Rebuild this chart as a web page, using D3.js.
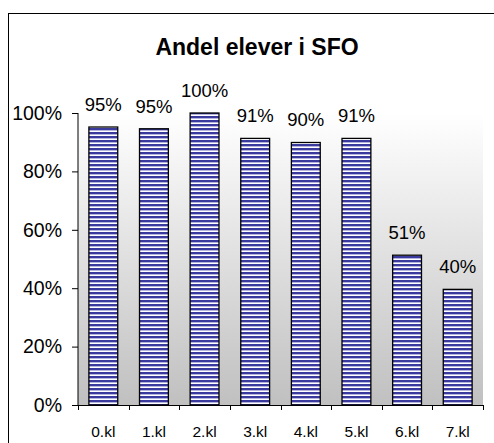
<!DOCTYPE html>
<html>
<head>
<meta charset="utf-8">
<script src="https://cdn.jsdelivr.net/npm/d3@7"></script>
<style>
  html, body { margin: 0; padding: 0; background: #ffffff; }
  svg { display: block; }
  text { font-family: "Liberation Sans", Arial, sans-serif; fill: #000; }
</style>
</head>
<body>
<svg id="chart" width="494" height="443"></svg>
<script>
// ---- data ----
const title = "Andel elever i SFO";
const categories = ["0.kl", "1.kl", "2.kl", "3.kl", "4.kl", "5.kl", "6.kl", "7.kl"];
const values = [95.2, 94.6, 100, 91.3, 89.9, 91.3, 51.3, 39.6];
const yTicks = [0, 20, 40, 60, 80, 100];

// ---- layout ----
const W = 494, H = 443;
const plot = { left: 78, right: 483, top: 113, bottom: 405 };

const svg = d3.select("#chart");
const defs = svg.append("defs");

// gradient background of the plot area
const grad = defs.append("linearGradient")
  .attr("id", "bg").attr("x1", 0).attr("y1", 0).attr("x2", 0).attr("y2", 1);
grad.append("stop").attr("offset", "0%").attr("stop-color", "#ffffff");
grad.append("stop").attr("offset", "100%").attr("stop-color", "#c0c0c0");

// horizontal stripe pattern for the bars
const pat = defs.append("pattern")
  .attr("id", "stripes").attr("patternUnits", "userSpaceOnUse")
  .attr("width", 8).attr("height", 4);
pat.append("rect").attr("x", 0).attr("y", 0).attr("width", 8).attr("height", 4).attr("fill", "#ffffff");
pat.append("rect").attr("x", 0).attr("y", 0).attr("width", 8).attr("height", 2).attr("fill", "#3a3a9e");
pat.append("rect").attr("x", 0).attr("y", 2).attr("width", 8).attr("height", 1).attr("fill", "#b4b4de");

// outer chart frame
svg.append("rect")
  .attr("x", 8.5).attr("y", 13.5)
  .attr("width", 490).attr("height", 440)
  .attr("fill", "#ffffff").attr("stroke", "#000").attr("stroke-width", 1);

// title
svg.append("text")
  .attr("x", 257).attr("y", 55)
  .attr("text-anchor", "middle")
  .style("font-size", "23px").style("font-weight", "bold")
  .text(title);

// scales
const x = d3.scaleBand().domain(categories)
  .range([plot.left, plot.right]).paddingInner(0.43).paddingOuter(0.215);
const xCat = d3.scaleBand().domain(categories).range([plot.left, plot.right]);
const y = d3.scaleLinear().domain([0, 100]).range([plot.bottom, plot.top]);

// plot area
svg.append("rect")
  .attr("x", plot.left).attr("y", plot.top)
  .attr("width", plot.right - plot.left).attr("height", plot.bottom - plot.top)
  .attr("fill", "url(#bg)");

// bars
svg.append("g").selectAll("rect")
  .data(values)
  .join("rect")
  .attr("x", (d, i) => x(categories[i]))
  .attr("y", d => y(d))
  .attr("width", x.bandwidth())
  .attr("height", d => y(0) - y(d))
  .attr("fill", "url(#stripes)")
  .attr("stroke", "#000").attr("stroke-width", 1.3);

// data labels
svg.append("g").selectAll("text")
  .data(values)
  .join("text")
  .attr("x", (d, i) => x(categories[i]) + x.bandwidth() / 2)
  .attr("y", d => y(d) - 16)
  .attr("text-anchor", "middle")
  .style("font-size", "18.5px")
  .text(d => Math.round(d) + "%");

// y axis
const yAxis = d3.axisLeft(y).tickValues(yTicks).tickFormat(d => d + "%")
  .tickSize(6).tickPadding(10);
const gy = svg.append("g").attr("transform", `translate(${plot.left},0)`).call(yAxis);
gy.select(".domain").attr("stroke", "#000").attr("d", `M0,${plot.top}V${plot.bottom}`);
gy.selectAll(".tick line").attr("stroke", "#000");
gy.selectAll(".tick text").style("font-size", "19.5px").style("font-family", "'Liberation Sans', Arial, sans-serif").attr("fill", "#000");

// x axis with ticks at category boundaries
const gx = svg.append("g").attr("transform", `translate(0,${plot.bottom})`);
gx.append("line").attr("x1", plot.left).attr("x2", plot.right)
  .attr("y1", 0.5).attr("y2", 0.5).attr("stroke", "#000");
const bounds = categories.map(c => xCat(c)).concat([plot.right]);
gx.selectAll("line.tk").data(bounds).join("line")
  .attr("class", "tk")
  .attr("x1", d => Math.round(d) + 0.5).attr("x2", d => Math.round(d) + 0.5)
  .attr("y1", 0).attr("y2", 5).attr("stroke", "#000");
gx.selectAll("text").data(categories).join("text")
  .attr("x", d => xCat(d) + xCat.bandwidth() / 2)
  .attr("y", 32)
  .attr("text-anchor", "middle")
  .style("font-size", "15.5px")
  .text(d => d);
</script>
</body>
</html>
